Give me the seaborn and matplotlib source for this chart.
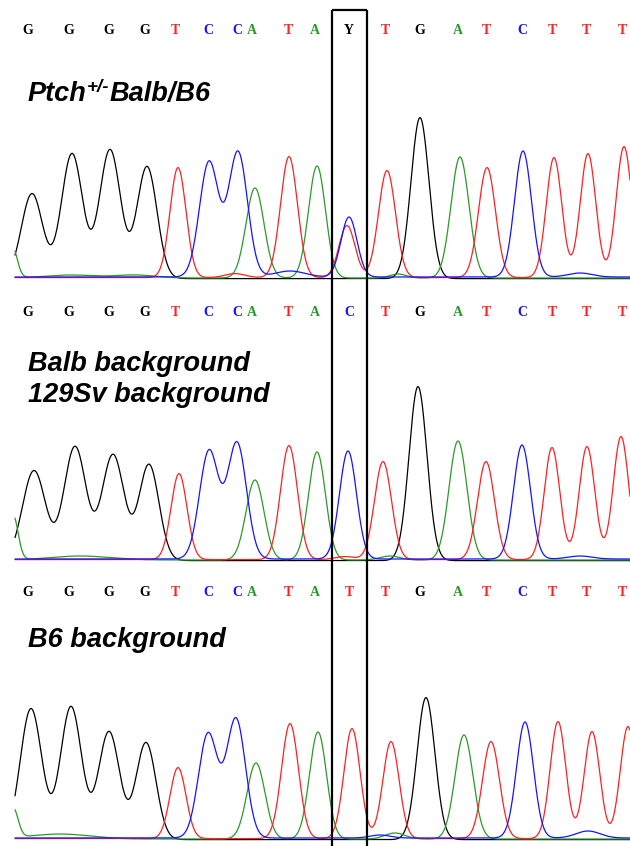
import numpy as np
import pandas as pd
import seaborn as sns
import matplotlib.pyplot as plt

# base calls printed above each chromatogram
calls_top = list("GGGGTCCATAYTGATCTTT")
calls_mid = list("GGGGTCCATACTGATCTTT")
calls_bot = list("GGGGTCCATATTGATCTTT")
call_x = [28, 69, 109, 145, 175, 208, 237, 252, 288, 315, 349, 385, 420, 458, 486, 522, 552, 586, 622]
snp = 10

# peaks: channel, position, height, width
top_ch = ["A", "A", "A", "G", "G", "G", "G", "T", "C", "C", "A", "T", "T", "C", "A", "C", "T", "T",
          "G", "A", "T", "C", "T", "T", "T", "A", "C"]
top_x = [12, 70, 135, 32, 72, 110, 147, 178, 209, 238, 255, 235, 289, 290, 317, 349, 347, 387,
         420, 460, 487, 523, 554, 588, 624, 398, 580]
top_h = [32, 3, 3, 85, 125, 129, 112, 110, 115, 125, 90, 4, 121, 6, 112, 60, 52, 107,
         161, 121, 110, 126, 120, 124, 131, 4, 4]
top_w = [5, 25, 20, 10.6, 10.5, 10.5, 10, 8, 9.5, 9.5, 9, 10, 8.5, 15, 8.5, 8, 8, 8.5,
         9, 9, 8.5, 8.5, 7.8, 7.8, 7.8, 8, 12]

mid_ch = ["A", "A", "G", "G", "G", "G", "T", "C", "C", "A", "T", "A", "C", "T",
          "G", "A", "T", "C", "T", "T", "T", "A", "T", "C"]
mid_x = [13, 80, 34, 75, 113, 149, 179, 209, 237, 255, 289, 317, 348, 383,
         418, 458, 486, 522, 552, 587, 621, 390, 345, 580]
mid_h = [45, 4, 90, 114, 106, 96, 86, 108, 116, 80, 114, 108, 108, 98,
         174, 119, 98, 114, 112, 113, 123, 4, 3, 3]
mid_w = [5, 30, 11.5, 11, 11, 10, 8, 9.5, 9.5, 9, 8.5, 8.5, 8.5, 8.5,
         9, 9, 8.5, 8.5, 7.8, 7.8, 7.8, 10, 10, 12]

bot_ch = ["A", "A", "G", "G", "G", "G", "T", "C", "C", "A", "T", "A", "T", "T",
          "G", "A", "T", "C", "T", "T", "T", "A", "C", "C"]
bot_x = [13, 60, 31, 71, 109, 146, 178, 208, 236, 256, 290, 318, 352, 391,
         426, 464, 491, 525, 558, 592, 628, 395, 588, 380]
bot_h = [30, 5, 131, 133, 108, 97, 71, 104, 119, 76, 115, 107, 110, 97,
         142, 104, 97, 116, 117, 107, 112, 6, 7, 3]
bot_w = [5, 30, 10.8, 10.6, 10.5, 10, 8, 9.5, 9.5, 9, 8.5, 8.5, 8.1, 8.1,
         9, 9, 8.5, 8.5, 7.8, 7.8, 7.8, 10, 12, 10]

labels_top = ["Ptch", "+/-", "Balb/B6"]
labels_mid = ["Balb background", "129Sv background"]
labels_bot = ["B6 background"]

colors = {"G": "#000000", "A": "#2a9a2a", "T": "#ff2020", "C": "#1414ff", "Y": "#000000"}
offsets = {"G": -0.6, "A": 0.0, "T": 0.4, "C": 1.0}


def make_traces(ch, px, ph, pw):
    x = np.linspace(15, 630, 1600)
    frames = []
    for b in ["G", "A", "T", "C"]:
        y = np.zeros_like(x) + offsets[b]
        for c, p, h, w in zip(ch, px, ph, pw):
            if c == b:
                y = y + h * np.exp(-(x - p) ** 2 / (2 * w ** 2))
        frames.append(pd.DataFrame({"x": x, "signal": y, "base": b}))
    return pd.concat(frames, ignore_index=True)


sns.set_style("white")
fig = plt.figure(figsize=(6.3, 8.46), dpi=100)

H = 846
# (top px, bottom px, baseline px) for each panel
panels = [(0, 290, 278), (290, 570, 560), (570, 846, 839)]
data = [(top_ch, top_x, top_h, top_w), (mid_ch, mid_x, mid_h, mid_w), (bot_ch, bot_x, bot_h, bot_w)]
calls = [calls_top, calls_mid, calls_bot]
call_y = [30, 313, 593]

box_l = (call_x[snp - 1] + call_x[snp]) / 2
box_r = (call_x[snp] + call_x[snp + 1]) / 2
lab_font = dict(family="Liberation Sans", fontweight="bold", fontstyle="italic", color="black")

axes = []
for i, (t, b, base) in enumerate(panels):
    ax = fig.add_axes([0, 1 - b / H, 1, (b - t) / H])
    df = make_traces(*data[i])
    sns.lineplot(data=df, x="x", y="signal", hue="base", hue_order=["G", "A", "T", "C"],
                 palette=colors, estimator=None, sort=False, linewidth=0.9, legend=False, ax=ax)
    ax.set_xlim(0, 630)
    ax.set_ylim(-(b - base), base - t)
    ax.set_axis_off()

    for lx, letter in zip(call_x, calls[i]):
        ax.text(lx, base - call_y[i], letter, color=colors[letter], ha="center", va="center",
                fontsize=10, fontweight="bold", family="Liberation Serif")

    if i == 0:
        top = base - 10
        ax.vlines([box_l, box_r], -(b - base), top, color="black", lw=1.6, zorder=5)
        ax.hlines(top, box_l, box_r, color="black", lw=1.6, zorder=5)
    else:
        ax.axvline(box_l, color="black", lw=1.6, zorder=5)
        ax.axvline(box_r, color="black", lw=1.6, zorder=5)
    axes.append(ax)

# panel labels
ax = axes[0]
t1 = ax.text(28, 278 - 101, labels_top[0], fontsize=19.5, va="baseline", **lab_font)
t2 = ax.annotate(labels_top[1], xy=(1, 1.06), xycoords=t1, ha="left", va="top", fontsize=13.5, **lab_font)
ax.annotate(labels_top[2], xy=(1, 0), xycoords=(t2, t1), ha="left", va="bottom", fontsize=19.5, **lab_font)

axes[1].text(28, 560 - 371, labels_mid[0], fontsize=19.5, va="baseline", **lab_font)
axes[1].text(28, 560 - 402, labels_mid[1], fontsize=19.5, va="baseline", **lab_font)
axes[2].text(28, 839 - 647, labels_bot[0], fontsize=19.5, va="baseline", **lab_font)

fig.savefig("out.png", dpi=100, facecolor="white")
